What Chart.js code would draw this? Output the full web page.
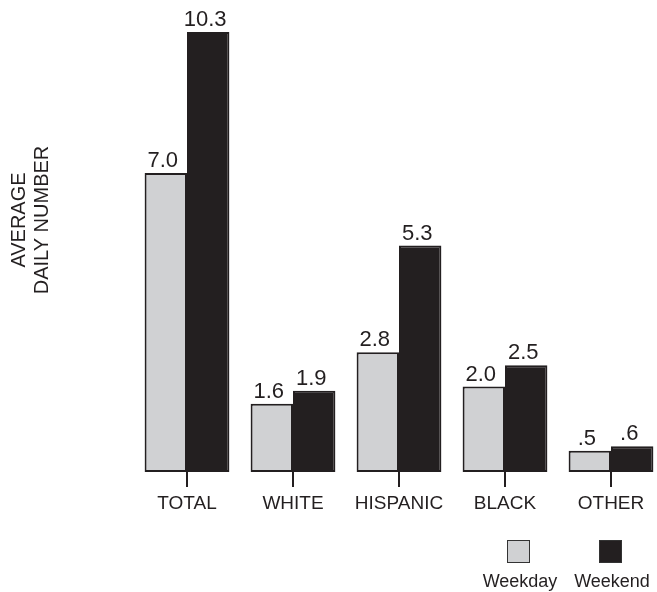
<!DOCTYPE html>
<html>
<head>
<meta charset="utf-8">
<script src="https://cdn.jsdelivr.net/npm/chart.js@4/dist/chart.umd.min.js"></script>
<style>
    html, body { margin: 0; padding: 0; background: #fff; overflow: hidden; }
    #wrap { position: relative; width: 668px; height: 592px; }
</style>
</head>
<body>
<div id="wrap"><canvas id="chart"></canvas></div>
<script>
// Chart data
const categories = ['TOTAL', 'WHITE', 'HISPANIC', 'BLACK', 'OTHER'];
const weekday = [7.0, 1.6, 2.8, 2.0, 0.5];
const weekend = [10.3, 1.9, 5.3, 2.5, 0.6];
const seriesNames = ['Weekday', 'Weekend'];
const yTitle = ['AVERAGE', 'DAILY NUMBER'];

const FONT = '"Liberation Sans", Arial, sans-serif';
const INK = '#231f20';

// Format values like ".5" instead of "0.5"
function fmt(v) {
    const s = v.toFixed(1);
    return v < 1 ? s.replace(/^0/, '') : s;
}

// Value labels above each bar
const valueLabels = {
    id: 'valueLabels',
    afterDatasetsDraw(chart) {
        const ctx = chart.ctx;
        ctx.save();
        ctx.font = '22px ' + FONT;
        ctx.fillStyle = INK;
        ctx.textAlign = 'center';
        ctx.textBaseline = 'alphabetic';
        chart.data.datasets.forEach((ds, i) => {
            chart.getDatasetMeta(i).data.forEach((bar, j) => {
                ctx.fillText(fmt(ds.data[j]), bar.x - 3, bar.y - 6);
            });
        });
        ctx.restore();
    }
};

// Rotated y title and the legend with swatches above the names
const extras = {
    id: 'extras',
    afterDraw(chart) {
        const ctx = chart.ctx;
        ctx.save();
        ctx.fillStyle = INK;
        ctx.font = '20px ' + FONT;
        ctx.textAlign = 'center';
        ctx.textBaseline = 'middle';
        ctx.translate(0, 220);
        ctx.rotate(-Math.PI / 2);
        yTitle.forEach((t, i) => ctx.fillText(t, 0, 19 + i * 23));
        ctx.restore();

        ctx.save();
        const centers = [519, 611];
        chart.data.datasets.forEach((ds, i) => {
            const cx = centers[i];
            ctx.fillStyle = ds.backgroundColor;
            ctx.strokeStyle = '#333';
            ctx.lineWidth = 1;
            ctx.fillRect(cx - 12, 540, 23, 23);
            ctx.strokeRect(cx - 11.5, 540.5, 22, 22);
            ctx.fillStyle = INK;
            ctx.font = '18px ' + FONT;
            ctx.textAlign = 'center';
            ctx.textBaseline = 'middle';
            ctx.fillText(ds.label, cx + 1, 582);
        });
        ctx.restore();
    }
};

new Chart(document.getElementById('chart'), {
    type: 'bar',
    data: {
        labels: categories,
        datasets: [{
            label: seriesNames[0],
            data: weekday,
            backgroundColor: '#d0d1d3',
            borderColor: INK,
            borderWidth: 2,
            borderSkipped: false
        }, {
            label: seriesNames[1],
            data: weekend,
            backgroundColor: INK,
            borderColor: INK,
            borderWidth: 2,
            borderSkipped: false
        }]
    },
    options: {
        responsive: true,
        maintainAspectRatio: false,
        animation: false,
        layout: { padding: { left: 134, right: 4, top: 2, bottom: 0 } },
        datasets: { bar: { categoryPercentage: 0.8, barPercentage: 1.0 } },
        plugins: {
            legend: { display: false },
            tooltip: { enabled: false }
        },
        scales: {
            x: {
                afterFit: scale => { scale.height = 120; },
                border: { display: false },
                grid: {
                    offset: false,
                    drawOnChartArea: false,
                    drawTicks: true,
                    tickLength: 15,
                    color: INK,
                    lineWidth: 2
                },
                ticks: {
                    color: INK,
                    padding: 5,
                    font: { family: FONT, size: 19 }
                }
            },
            y: {
                display: false,
                min: 0,
                max: 11
            }
        }
    },
    plugins: [valueLabels, extras]
});
</script>
</body>
</html>
